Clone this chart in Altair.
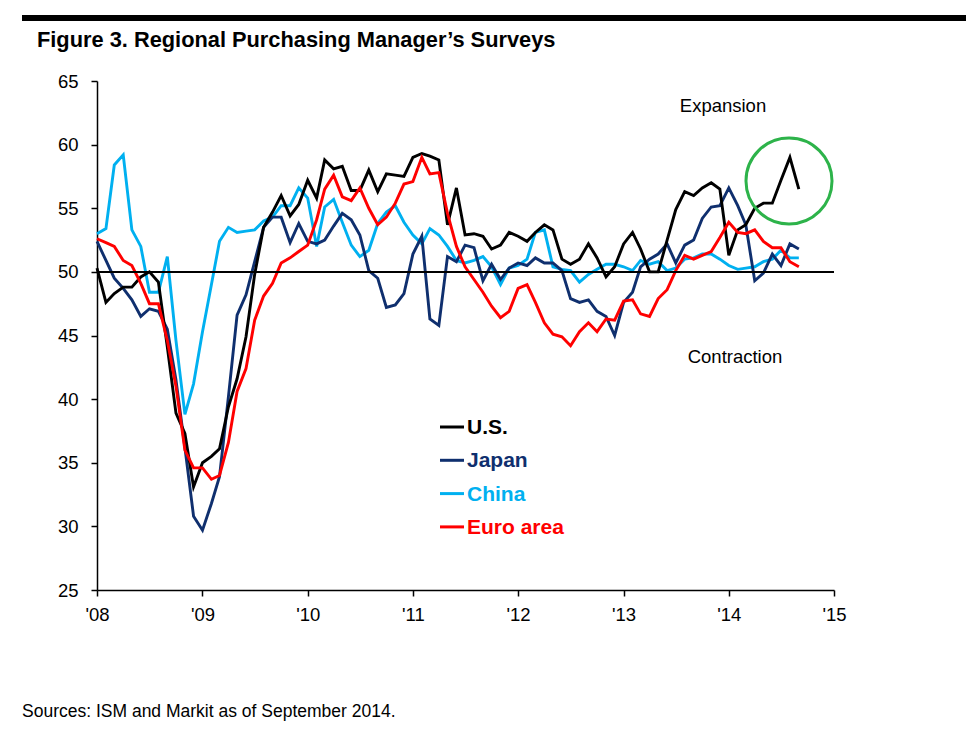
import altair as alt
import pandas as pd

# ---- data (monthly, Jan 2008 - Sep 2014) ----
months = pd.date_range("2008-01-01", periods=81, freq="MS")

us = [50.3, 47.6, 48.3, 48.8, 48.8, 49.6, 50.0, 49.2, 44.1, 38.9, 37.3, 33.1,
      35.0, 35.5, 36.1, 39.4, 41.6, 44.9, 49.8, 53.5, 54.7, 56.0, 54.4, 55.3,
      57.2, 55.8, 58.8, 58.1, 58.3, 56.4, 56.4, 58.0, 56.3, 57.7, 57.6, 57.5,
      59.0, 59.3, 59.1, 58.8, 53.7, 56.6, 52.9, 53.0, 52.8, 51.8, 52.1, 53.1,
      52.8, 52.4, 53.1, 53.7, 53.3, 51.0, 50.6, 51.0, 52.2, 51.1, 49.6, 50.4,
      52.2, 53.1, 51.8, 50.0, 50.0, 52.5, 54.9, 56.3, 56.0, 56.6, 57.0, 56.5,
      51.3, 53.3, 53.7, 55.0, 55.4, 55.4, 57.2, 59.0, 56.5]

japan = [52.4, 50.9, 49.5, 48.7, 47.8, 46.5, 47.1, 46.9, 45.5, 41.5, 36.2, 30.8,
         29.7, 31.8, 33.9, 40.2, 46.6, 48.2, 50.8, 53.5, 54.3, 54.3, 52.3, 53.8,
         52.4, 52.2, 52.5, 53.6, 54.6, 54.1, 52.9, 50.1, 49.5, 47.2, 47.4, 48.3,
         51.4, 52.8, 46.3, 45.8, 51.2, 50.8, 52.1, 51.9, 49.3, 50.6, 49.4, 50.3,
         50.7, 50.5, 51.1, 50.7, 50.7, 50.1, 47.9, 47.6, 47.8, 46.9, 46.5, 45.0,
         47.6, 48.4, 50.4, 51.0, 51.4, 52.2, 50.7, 52.1, 52.5, 54.2, 55.1, 55.2,
         56.6, 55.2, 53.7, 49.3, 49.9, 51.4, 50.5, 52.2, 51.8]

china = [53.0, 53.4, 58.4, 59.2, 53.3, 52.0, 48.4, 48.4, 51.2, 44.6, 38.8, 41.2,
         45.3, 49.0, 52.4, 53.5, 53.1, 53.2, 53.3, 54.0, 54.3, 55.2, 55.2, 56.6,
         55.8, 52.0, 55.1, 55.7, 53.9, 52.1, 51.2, 51.7, 53.8, 54.7, 55.2, 53.9,
         52.9, 52.2, 53.4, 52.9, 52.0, 50.9, 50.7, 50.9, 51.2, 50.4, 49.0, 50.3,
         50.5, 51.0, 53.1, 53.3, 50.4, 50.2, 50.1, 49.2, 49.8, 50.2, 50.6, 50.6,
         50.4, 50.1, 50.9, 50.6, 50.8, 50.1, 50.3, 51.0, 51.1, 51.4, 51.4, 51.0,
         50.5, 50.2, 50.3, 50.4, 50.8, 51.0, 51.7, 51.1, 51.1]

euro = [52.6, 52.3, 52.0, 50.9, 50.5, 49.1, 47.5, 47.5, 44.6, 41.0, 36.0, 34.6,
        34.6, 33.7, 34.0, 36.6, 40.6, 42.4, 46.2, 48.1, 49.1, 50.7, 51.1, 51.6,
        52.1, 54.1, 56.5, 57.6, 55.9, 55.6, 56.6, 55.0, 53.7, 54.3, 55.4, 56.9,
        57.1, 59.0, 57.7, 57.8, 54.6, 52.0, 50.4, 49.4, 48.4, 47.3, 46.4, 46.9,
        48.7, 49.0, 47.6, 46.0, 45.1, 44.9, 44.2, 45.3, 46.0, 45.3, 46.3, 46.2,
        47.7, 47.8, 46.7, 46.5, 47.9, 48.6, 50.1, 51.3, 51.0, 51.3, 51.6, 52.7,
        53.9, 53.1, 53.0, 53.3, 52.4, 51.9, 51.9, 50.8, 50.4]

series_names = ["U.S.", "Japan", "China", "Euro area"]
series_colors = ["#000000", "#0f2f6e", "#00b0f0", "#ff0000"]
draw_order = ["China", "Japan", "U.S.", "Euro area"]
year_ticks = list(range(2008, 2016))
y_ticks = list(range(25, 70, 5))
threshold = [50]

title_text = ["Figure 3. Regional Purchasing Manager\u2019s Surveys"]
source_text = ["Sources: ISM and Markit as of September 2014."]
expansion_text = ["Expansion"]
contraction_text = ["Contraction"]

rows = []
for name, vals in zip(series_names, [us, japan, china, euro]):
    for d, v in zip(months, vals):
        rows.append({"date": d, "series": name, "value": v})
df = pd.DataFrame(rows)

FONT = "Liberation Sans, Arial, Helvetica, sans-serif"

x_enc = alt.X(
    "date:T",
    title=None,
    scale=alt.Scale(domain=[alt.DateTime(year=2008, month=1, date=1),
                            alt.DateTime(year=2015, month=1, date=1)]),
    axis=alt.Axis(values=[alt.DateTime(year=y, month=1, date=1) for y in year_ticks],
                  format="'%y", labelFlush=False, labelOverlap=False,
                  tickSize=6, tickWidth=1.5, tickColor="black",
                  domainColor="black", domainWidth=1.5,
                  labelFont=FONT, labelFontSize=18.5, labelColor="black",
                  labelPadding=9, grid=False),
)
y_enc = alt.Y(
    "value:Q",
    title=None,
    scale=alt.Scale(domain=[25, 65], nice=False, zero=False),
    axis=alt.Axis(values=y_ticks, tickSize=6, tickWidth=1.5, tickColor="black",
                  domainColor="black", domainWidth=1.5,
                  labelFont=FONT, labelFontSize=18.5, labelColor="black",
                  labelPadding=13, grid=False),
)

color_of = dict(zip(series_names, series_colors))

layers = []
for name in draw_order:
    layers.append(
        alt.Chart(df).transform_filter(alt.datum.series == name)
        .mark_line(color=color_of[name], strokeWidth=2.9)
        .encode(x=x_enc, y=y_enc)
    )

rule50 = alt.Chart(pd.DataFrame({"value": threshold})).mark_rule(
    color="black", strokeWidth=2).encode(y="value:Q")

circle = alt.Chart(pd.DataFrame({"a": [0]})).mark_point(
    shape="circle", size=7400, filled=False, stroke="#2db34a", strokeWidth=3,
    opacity=1).encode(x=alt.value(692), y=alt.value(100))

def text_layer(txt, x, y, size, weight="normal", color="black", align="left",
               baseline="alphabetic", font=FONT):
    return alt.Chart(pd.DataFrame({"t": txt})).mark_text(
        align=align, baseline=baseline, fontSize=size, fontWeight=weight,
        color=color, font=font).encode(x=alt.value(x), y=alt.value(y), text="t:N")

expansion = text_layer(expansion_text, 626, 25, 18.5, align="center", baseline="middle")
contraction = text_layer(contraction_text, 638, 276, 18.5, align="center", baseline="middle")
title = text_layer(title_text, -60, -34, 21.8, weight="bold")
source = text_layer(source_text, -75, 636, 17.5)

topbar = alt.Chart(pd.DataFrame({"a": [0]})).mark_rule(
    color="black", strokeWidth=6).encode(
    x=alt.value(-75), x2=alt.value(869), y=alt.value(-63))

legend_layers = []
for i, name in enumerate(series_names):
    yy = 346 + i * 33.3
    legend_layers.append(
        alt.Chart(pd.DataFrame({"a": [0]})).mark_rule(
            color=color_of[name], strokeWidth=3).encode(
            x=alt.value(343), x2=alt.value(367), y=alt.value(yy)))
    legend_layers.append(
        text_layer([name], 370, yy + 1, 21, weight="bold", color=color_of[name],
                   baseline="middle"))

chart = alt.layer(
    *layers, rule50, circle, expansion, contraction, *legend_layers,
    title, source, topbar
).properties(
    width=737, height=509,
    autosize=alt.AutoSizeParams(type="none"),
    padding={"left": 89, "top": 73, "right": 133, "bottom": 131},
).configure_view(stroke=None)

chart.save("out.html", embed_options={"renderer": "svg", "actions": False})
